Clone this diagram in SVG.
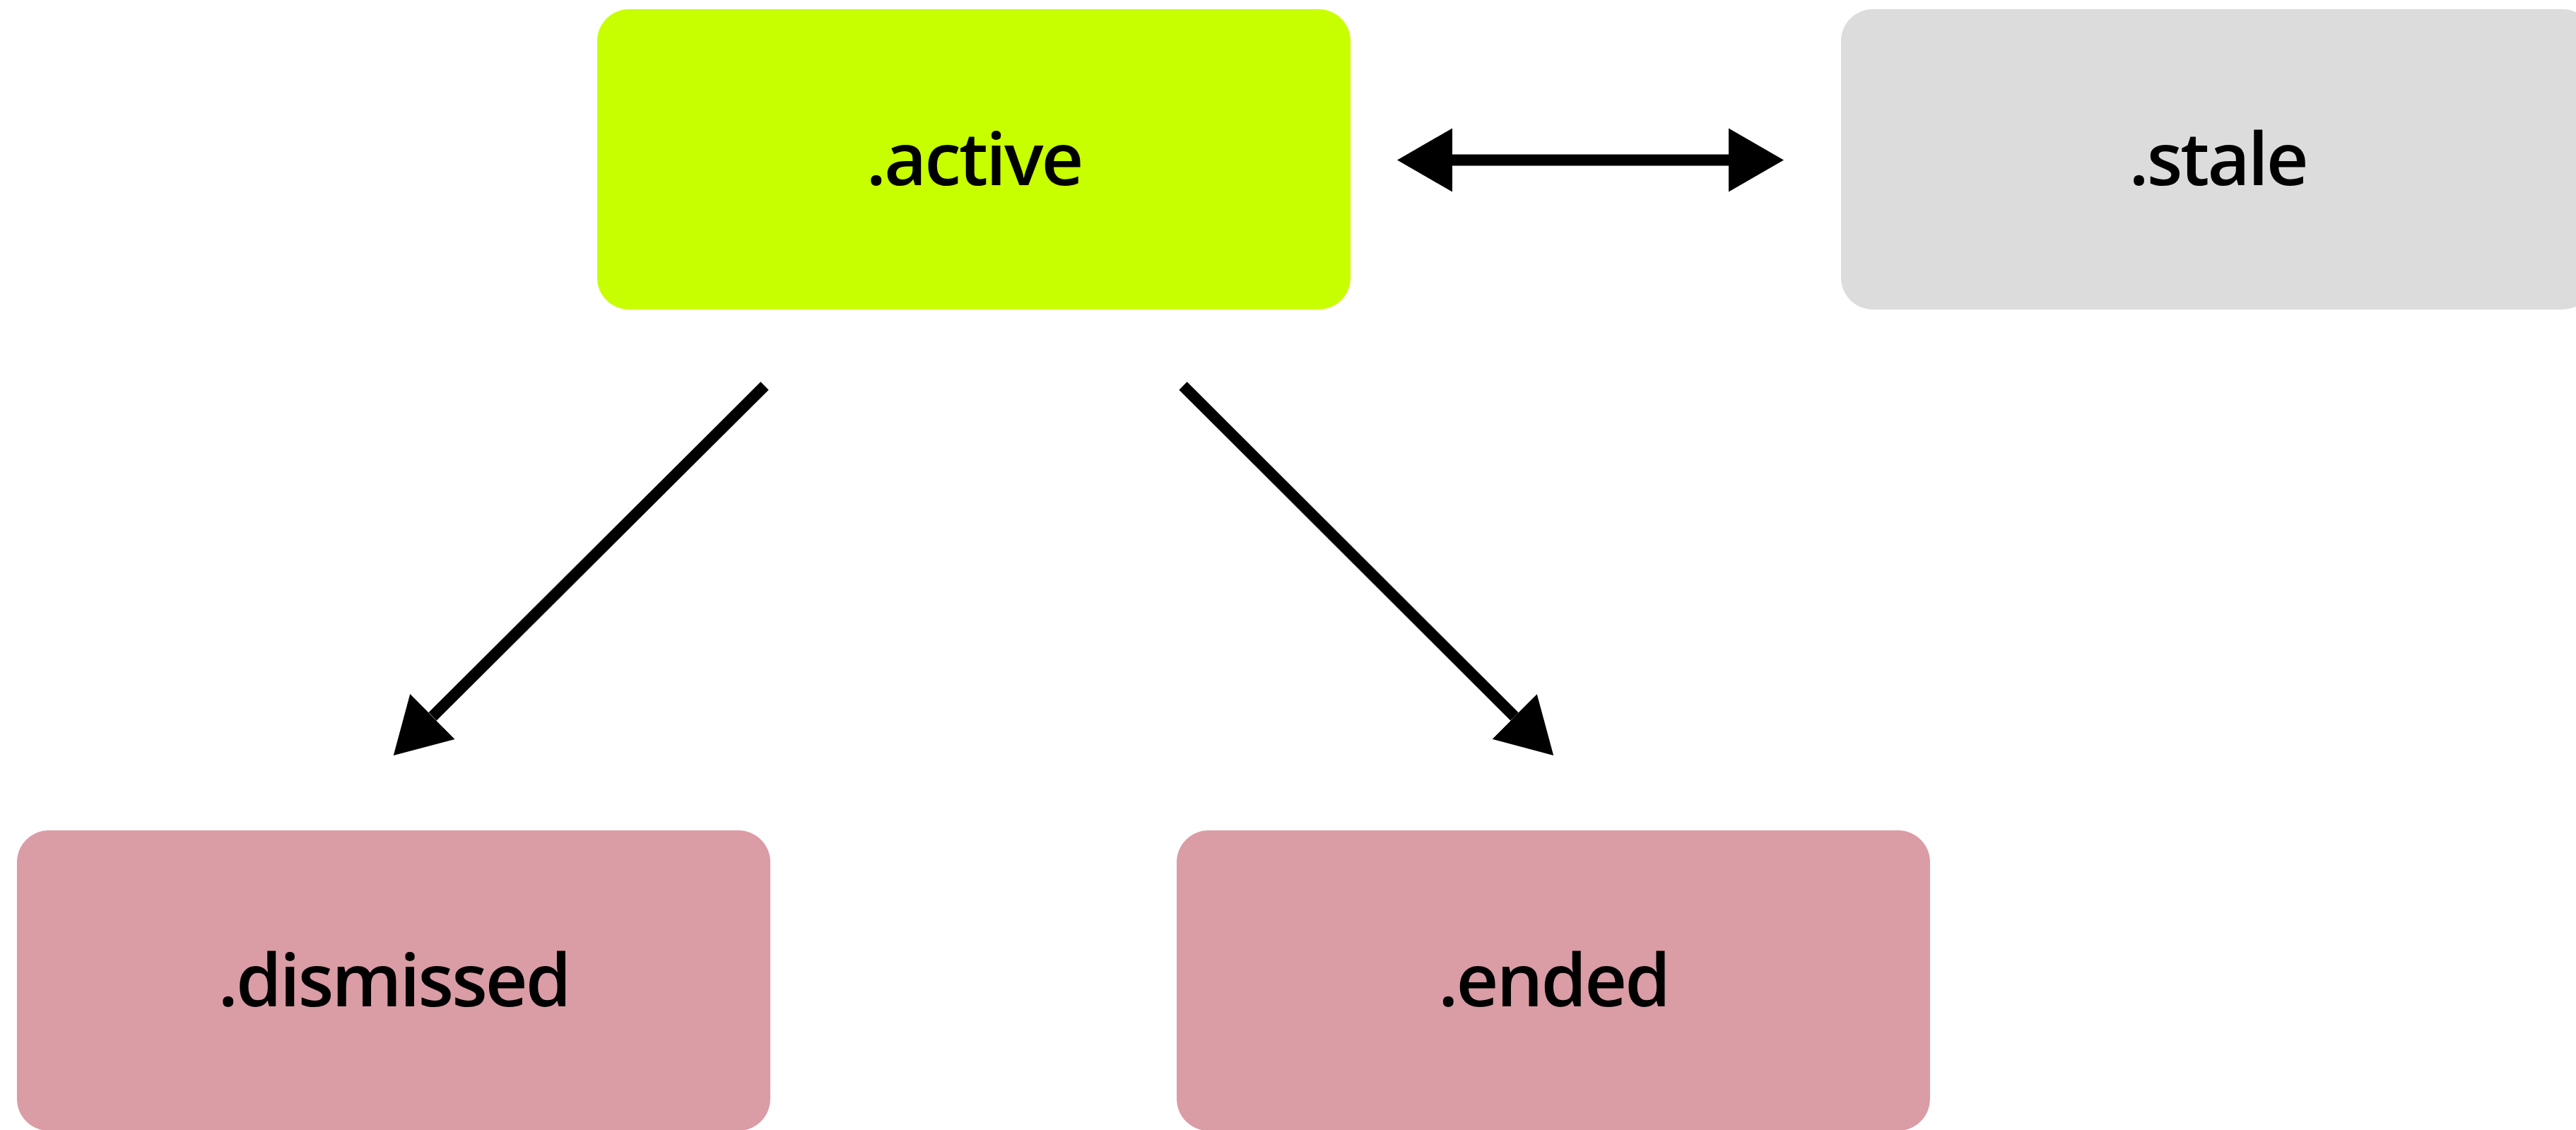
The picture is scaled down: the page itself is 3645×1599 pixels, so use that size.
<svg xmlns="http://www.w3.org/2000/svg" width="3645" height="1599" viewBox="0 0 3645 1599">
  <style>
    .node-box { stroke: none; }
    .active-box { fill: #C8FF00; }
    .stale-box { fill: #DCDCDC; }
    .end-box { fill: #DA9CA5; }
    .label { font-family: "Open Sans", "Noto Sans", "DejaVu Sans", sans-serif; font-size: 104px; font-weight: 600; letter-spacing: -3px; fill: #000000; text-anchor: middle; }
    .conn { fill: none; stroke: #000000; stroke-width: 16; stroke-linecap: butt; }
  </style>
  <defs>
    <marker id="arrow" markerUnits="userSpaceOnUse" viewBox="0 -47 80 94" markerWidth="80" markerHeight="94" refX="0" refY="0" orient="auto-start-reverse">
      <path d="M0,-45 L78,0 L0,45 Z" fill="#000000"/>
    </marker>
  </defs>

  <g id="connectors">
    <path class="conn" d="M2055,226.5 L2446,226.5" marker-start="url(#arrow)" marker-end="url(#arrow)"/>
    <path class="conn" d="M1082,546 L612,1014" marker-end="url(#arrow)"/>
    <path class="conn" d="M1674,546 L2143,1014" marker-end="url(#arrow)"/>
  </g>

  <g id="node-active">
    <rect class="node-box active-box" x="845" y="13" width="1066" height="425" rx="45" ry="45"/>
    <text class="label" x="1378" y="262">.active</text>
  </g>
  <g id="node-stale">
    <rect class="node-box stale-box" x="2605" y="13" width="1066" height="425" rx="45" ry="45"/>
    <text class="label" x="3138" y="262">.stale</text>
  </g>
  <g id="node-dismissed">
    <rect class="node-box end-box" x="24" y="1175" width="1066" height="425" rx="45" ry="45"/>
    <text class="label" x="557" y="1424">.dismissed</text>
  </g>
  <g id="node-ended">
    <rect class="node-box end-box" x="1665" y="1175" width="1066" height="425" rx="45" ry="45"/>
    <text class="label" x="2198" y="1424">.ended</text>
  </g>
</svg>
